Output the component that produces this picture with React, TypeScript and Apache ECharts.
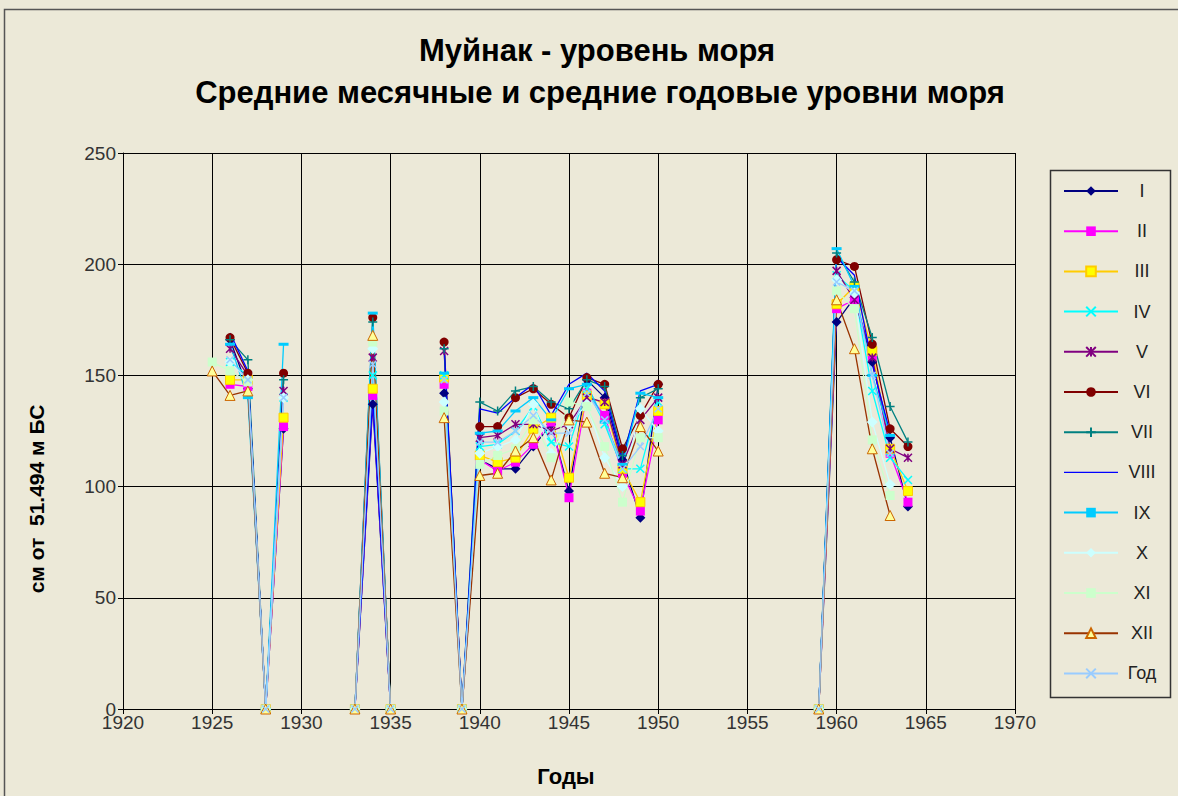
import React, { useEffect, useRef } from "react";
import * as echarts from "echarts";

const years = [1925, 1926, 1927, 1928, 1929, 1930, 1933, 1934, 1935, 1936, 1938, 1939, 1940, 1941, 1942, 1943, 1944, 1945, 1946, 1947, 1948, 1949, 1950, 1951, 1959, 1960, 1961, 1962, 1963, 1964];

const sI = [null, 166, 144, 0, 126, null, 0, 137, 0, null, 142, 0, 112, 108, 108, 118, 128, 98, 148, 140, 112, 86, 146, null, 0, 174, 185, 156, 122, 91];
const sII = [null, 146, 145, 0, 127, null, 0, 141, 0, null, 146, 0, 112, 107, 111, 119, 129, 95, 142, 132, 106, 89, 130, null, 0, 180, 184, 159, 115, 93];
const sIII = [null, 148, 148, 0, 131, null, 0, 144, 0, null, 149, 0, 114, 111, 113, 126, 131, 104, 141, 137, 108, 93, 134, null, 0, 182, 190, 161, 117, 98];
const sIV = [null, 156, 150, 0, 140, null, 0, 150, 0, null, 150, 0, 118, 119, 125, 136, 120, 118, 144, 128, 108, 108, 138, null, 0, 195, 188, 143, 113, 103];
const sV = [null, 162, 150, 0, 143, null, 0, 158, 0, null, 161, 0, 122, 123, 128, 128, 125, 128, 140, 138, 110, 130, 140, null, 0, 197, 184, 158, 117, 113];
const sVI = [null, 167, 151, 0, 151, null, 0, 176, 0, null, 165, 0, 127, 127, 140, 144, 137, 131, 149, 146, 117, 132, 146, null, 0, 202, 199, 164, 126, 118];
const sVII = [null, 166, 157, 0, 148, null, 0, 174, 0, null, 162, 0, 138, 134, 143, 145, 138, 135, 148, 145, 114, 140, 144, null, 0, 205, 192, 167, 136, 120];
const sVIII = [null, 169, 152, 0, 145, null, 0, 140, 0, null, 164, 0, 135, 133, 140, 146, 132, 146, 151, 143, 112, 143, 146, null, 0, 203, 195, 155, 124, null];
const sIX = [null, 164, 140, 0, 164, null, 0, 178, 0, null, 151, 0, 124, 125, 134, 140, 130, 144, 146, 129, 110, 142, 140, null, 0, 207, 190, 150, 123, null];
const sX = [null, 156, 148, 0, 140, null, 0, 162, 0, null, 138, 0, 115, 118, 121, 137, 115, 128, 137, 113, 100, 135, 125, null, 0, 193, 187, 129, 101, null];
const sXI = [156, 152, 147, 0, null, null, 0, 165, 0, null, 134, 0, 110, 114, 117, 130, 113, 138, 136, 118, 93, 122, 122, null, 0, 188, 180, 121, 96, null];
const sXII = [152, 141, 143, 0, null, null, 0, 168, 0, null, 131, 0, 105, 106, 116, 122, 103, 130, 129, 106, 104, 127, 116, null, 0, 184, 162, 117, 87, null];
const sYear = [null, 157, 148, 0, 140, null, 0, 155, 0, null, 148, 0, 120, 120, 125, 132, 124, 124, 142, 130, 108, 118, 135, null, 0, 192, 188, 150, 115, null];

const titleLines = ["Муйнак - уровень моря", "Средние месячные и средние годовые уровни моря"];
const xAxisTitle = "Годы";
const yAxisTitle = "см от  51.494 м БС";

const X_PATH = "path://M0,0L10,10M10,0L0,10";
const STAR_PATH = "path://M0,0L10,10M10,0L0,10M5,0L5,10";
const PLUS_PATH = "path://M5,0L5,10M0,5L10,5";
const DASH_PATH = "path://M0,0L10,0L10,2L0,2Z";
const LINE_ICON = "path://M0,0L54,0L54,1.4L0,1.4Z";

type Def = {
  name: string;
  data: (number | null)[];
  line: string;
  fill: string;
  border: string;
  borderWidth: number;
  symbol: string;
  size: number | number[];
};

const defs: Def[] = [
  { name: "I", data: sI, line: "#000080", fill: "#000080", border: "#000080", borderWidth: 0, symbol: "diamond", size: 10 },
  { name: "II", data: sII, line: "#FF00FF", fill: "#FF00FF", border: "#FF00FF", borderWidth: 0, symbol: "rect", size: 9 },
  { name: "III", data: sIII, line: "#FFCC00", fill: "#FFFF00", border: "#FFCC00", borderWidth: 1, symbol: "rect", size: 9 },
  { name: "IV", data: sIV, line: "#00FFFF", fill: "#00FFFF", border: "#00FFFF", borderWidth: 1.5, symbol: X_PATH, size: 8 },
  { name: "V", data: sV, line: "#800080", fill: "#800080", border: "#800080", borderWidth: 1.5, symbol: STAR_PATH, size: 8 },
  { name: "VI", data: sVI, line: "#800000", fill: "#800000", border: "#800000", borderWidth: 0, symbol: "circle", size: 9 },
  { name: "VII", data: sVII, line: "#008080", fill: "#008080", border: "#008080", borderWidth: 1.5, symbol: PLUS_PATH, size: 9 },
  { name: "VIII", data: sVIII, line: "#0000FF", fill: "#0000FF", border: "#0000FF", borderWidth: 0, symbol: "none", size: 0 },
  { name: "IX", data: sIX, line: "#00CCFF", fill: "#00CCFF", border: "#00CCFF", borderWidth: 0, symbol: DASH_PATH, size: [10, 3] },
  { name: "X", data: sX, line: "#CCFFFF", fill: "#CCFFFF", border: "#CCFFFF", borderWidth: 0, symbol: "diamond", size: 11 },
  { name: "XI", data: sXI, line: "#CCFFCC", fill: "#CCFFCC", border: "#CCFFCC", borderWidth: 0, symbol: "rect", size: 9 },
  { name: "XII", data: sXII, line: "#993300", fill: "#FFFF99", border: "#CC6600", borderWidth: 1, symbol: "triangle", size: 10 },
  { name: "Год", data: sYear, line: "#99CCFF", fill: "#99CCFF", border: "#99CCFF", borderWidth: 1.5, symbol: X_PATH, size: 7 },
];

const FONT = "'Liberation Sans', Arial, sans-serif";

export default function App() {
  const ref = useRef<HTMLDivElement>(null);
  useEffect(() => {
    if (!ref.current) return;
    const chart = echarts.init(ref.current, null, { renderer: "svg" });
    const series = defs.map((d) => ({
      name: d.name,
      type: "line",
      data: years.map((y, i) => [y, d.data[i] === null ? "-" : d.data[i]]),
      symbol: d.symbol,
      symbolSize: d.size,
      showAllSymbol: true,
      connectNulls: false,
      lineStyle: { color: d.line, width: 1.3 },
      itemStyle: { color: d.fill, borderColor: d.border, borderWidth: d.borderWidth },
      emphasis: { disabled: true },
      z: 3,
    }));
    chart.setOption({
      animation: false,
      backgroundColor: "#ECE9D8",
      textStyle: { fontFamily: FONT },
      grid: { left: 123, top: 153, width: 892, height: 556, containLabel: false },
      xAxis: {
        type: "value",
        min: 1920,
        max: 1970,
        interval: 5,
        axisLine: { show: true, onZero: false, lineStyle: { color: "#000", width: 1 } },
        axisTick: { show: true, length: 5, lineStyle: { color: "#000" } },
        axisLabel: { color: "#333", fontSize: 19, margin: 4, fontFamily: FONT, formatter: (v: number) => String(v) },
        splitLine: { show: true, lineStyle: { color: "#000", width: 1 } },
      },
      yAxis: {
        type: "value",
        min: 0,
        max: 250,
        interval: 50,
        axisLine: { show: true, lineStyle: { color: "#000", width: 1 } },
        axisTick: { show: true, length: 5, lineStyle: { color: "#000" } },
        axisLabel: { color: "#333", fontSize: 19, margin: 7, fontFamily: FONT },
        splitLine: { show: true, lineStyle: { color: "#000", width: 1 } },
      },
      legend: {
        orient: "vertical",
        left: 1058,
        top: 177,
        itemWidth: 54,
        itemHeight: 12,
        itemGap: 22.2,
        selectedMode: false,
        formatter: (name: string) => `{a|${name}}`,
        textStyle: {
          color: "#222",
          fontSize: 18,
          fontFamily: FONT,
          rich: { a: { width: 38, align: "center", fontSize: 18, lineHeight: 20, color: "#222", fontFamily: FONT } },
        },
        data: defs.map((d) =>
          d.name === "VIII" ? { name: d.name, icon: LINE_ICON, itemStyle: { color: d.line } } : d.name
        ),
      },
      graphic: [
        { type: "rect", shape: { x: 4.5, y: 9.5, width: 1300, height: 900 }, style: { fill: "none", stroke: "#555", lineWidth: 1.5 }, silent: true },
        { type: "rect", shape: { x: 1050.5, y: 170.5, width: 120, height: 527 }, style: { fill: "none", stroke: "#333", lineWidth: 1.5 }, silent: true },
        { type: "text", x: 597, y: 50, style: { text: titleLines[0], font: `bold 31px ${FONT}`, fill: "#000", align: "center", verticalAlign: "middle" } },
        { type: "text", x: 600, y: 92, style: { text: titleLines[1], font: `bold 31px ${FONT}`, fill: "#000", align: "center", verticalAlign: "middle" } },
        { type: "text", x: 566, y: 776, style: { text: xAxisTitle, font: `bold 22px ${FONT}`, fill: "#000", align: "center", verticalAlign: "middle" } },
        { type: "text", x: 36, y: 499, rotation: Math.PI / 2, style: { text: yAxisTitle, font: `bold 21px ${FONT}`, fill: "#000", align: "center", verticalAlign: "middle" } },
      ],
      series,
    });
    return () => chart.dispose();
  }, []);
  return <div ref={ref} style={{ position: "fixed", left: 0, top: 0, width: 1178, height: 796 }} />;
}
